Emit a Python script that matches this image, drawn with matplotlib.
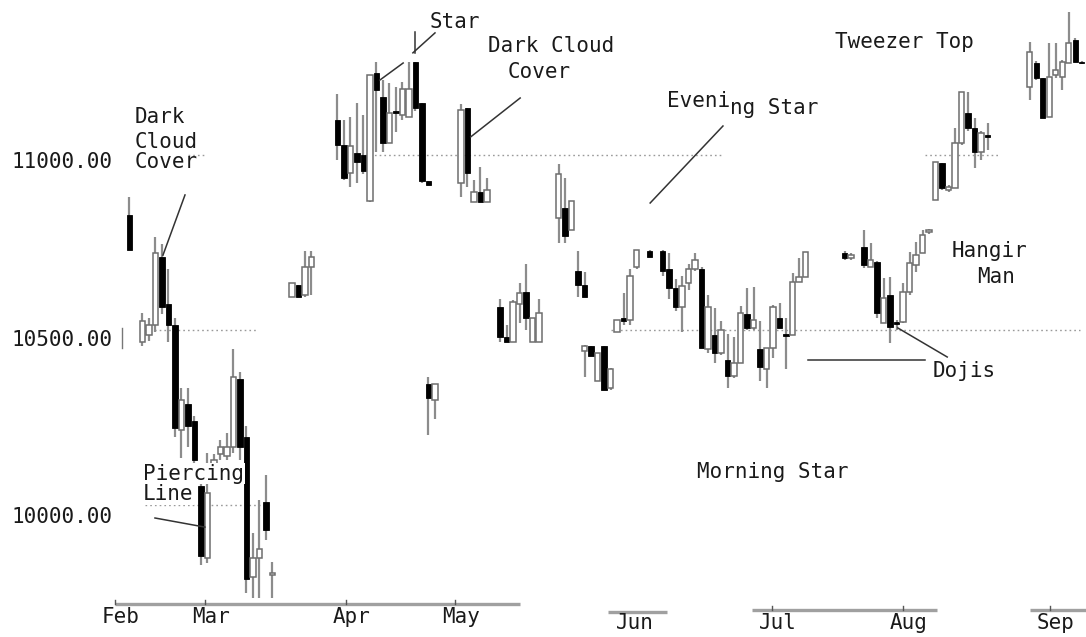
import matplotlib.pyplot as plt
import matplotlib.transforms as mtransforms

# ---------------------------------------------------------
# data: session position (trading days from start of Feb) and OHLC
# ---------------------------------------------------------
day = [1, 3, 4, 5, 6, 7, 8, 9, 10, 11, 12, 13, 14, 15, 16, 17, 18, 19, 20, 21, 22, 23,
       26, 27, 28, 29,
       33, 34, 35, 36, 37, 38, 39, 40, 41, 42, 43, 44, 45, 46, 47, 47, 48,
       52, 53, 54, 55, 56, 58, 59, 60, 61, 62, 63, 64,
       67, 68, 69, 70, 71, 71, 72, 73, 74, 75,
       76, 77, 78, 79, 81, 83, 84, 85, 86, 87, 88, 89, 90, 91, 92, 93, 94, 95, 96, 97,
       98, 99, 100, 101, 102, 103, 104, 105,
       111, 112, 114, 115, 116, 117, 118, 119, 120, 121, 122, 123, 124,
       125, 126, 127, 128, 129, 130, 131, 132, 133,
       139.5, 140.5, 141.5, 142.5, 143.5, 144.5, 145.5, 146.5, 147.5]

opens = [10830, 10465, 10485, 10515, 10710, 10575, 10515, 10215, 10290, 10240, 10055, 9850,
         10115, 10145, 10140, 10165, 10360, 10195, 9795, 9850, 10010, 9800,
         10595, 10630, 10600, 10680,
         11100, 11030, 10950, 11005, 11000, 10870, 11235, 11165, 11035, 11125, 11115, 11110,
         11265, 11150, 10925, 10345, 10300,
         10920, 11135, 10865, 10895, 10865, 10565, 10480, 10465, 10575, 10610, 10465, 10465,
         10820, 10850, 10785, 10670, 10630, 10440, 10455, 10355, 10455, 10335,
         10495, 10535, 10530, 10680, 10725, 10725, 10675, 10620, 10565, 10635, 10675, 10675,
         10445, 10485, 10435, 10415, 10370, 10405, 10545, 10505,
         10445, 10390, 10450, 10535, 10487, 10485, 10637, 10652,
         10720, 10705, 10737, 10680, 10694, 10520, 10600, 10520, 10523, 10609, 10686, 10720, 10780,
         10872, 10977, 10900, 10906, 11034, 11120, 11077, 11009, 11057,
         11194, 11263, 11220, 11109, 11229, 11223, 11263, 11329, 11266]

highs = [10880, 10550, 10535, 10765, 10745, 10675, 10535, 10335, 10335, 10255, 10120, 10150,
         10145, 10185, 10205, 10445, 10380, 10225, 9920, 10015, 10085, 9837,
         10635, 10630, 10725, 10725,
         11175, 11100, 11110, 11150, 11115, 11230, 11265, 11215, 11205, 11195, 11210, 11265,
         11265, 11150, 10925, 10365, 10345,
         11145, 11135, 10930, 10965, 10935, 10590, 10515, 10585, 10635, 10690, 10535, 10590,
         10975, 10935, 10870, 10725, 10665, 10457, 10455, 10435, 10455, 10392,
         10530, 10605, 10675, 10730, 10730, 10730, 10720, 10645, 10655, 10690, 10720, 10680,
         10600, 10563, 10525, 10490, 10480, 10570, 10620, 10623,
         10525, 10450, 10572, 10577, 10535, 10663, 10706, 10723,
         10725, 10720, 10786, 10749, 10697, 10649, 10652, 10530, 10634, 10723, 10752, 10786, 10790,
         10980, 10977, 10915, 11077, 11180, 11180, 11106, 11070, 11092,
         11323, 11270, 11220, 11320, 11320, 11272, 11409, 11335, 11268]

lows = [10730, 10455, 10470, 10495, 10545, 10465, 10195, 10135, 10165, 10115, 9830, 9835,
        10105, 10130, 10130, 10150, 10130, 9750, 9735, 9735, 9900, 9735,
        10595, 10595, 10595, 10600,
        10985, 10930, 10910, 10920, 10945, 10865, 11010, 11010, 11035, 11065, 11100, 11110,
        11125, 10920, 10915, 10200, 10245,
        10880, 10910, 10865, 10865, 10865, 10465, 10465, 10465, 10520, 10500, 10465, 10465,
        10750, 10750, 10785, 10595, 10595, 10365, 10425, 10355, 10330, 10330,
        10495, 10515, 10515, 10675, 10710, 10655, 10590, 10555, 10495, 10615, 10670, 10450,
        10435, 10405, 10430, 10335, 10363, 10405, 10500, 10500,
        10355, 10335, 10420, 10505, 10390, 10485, 10637, 10652,
        10700, 10700, 10677, 10680, 10534, 10520, 10463, 10500, 10520, 10600, 10666, 10720, 10775,
        10872, 10900, 10895, 10906, 11029, 11070, 10963, 10986, 11014,
        11157, 11214, 11106, 11109, 11220, 11186, 11263, 11266, 11260]

closes = [10730, 10525, 10515, 10720, 10565, 10515, 10220, 10300, 10225, 10130, 9855, 10035,
          10130, 10165, 10165, 10365, 10165, 9790, 9850, 9875, 9930, 9805,
          10635, 10595, 10680, 10710,
          11030, 10935, 11025, 10980, 10955, 11230, 11185, 11035, 11120, 11120, 11190, 11190,
          11135, 10925, 10915, 10305, 10345,
          11130, 10950, 10895, 10865, 10900, 10480, 10465, 10580, 10605, 10535, 10535, 10550,
          10945, 10770, 10870, 10630, 10595, 10455, 10425, 10435, 10330, 10390,
          10530, 10525, 10655, 10730, 10710, 10670, 10620, 10565, 10625, 10675, 10700, 10450,
          10565, 10435, 10500, 10370, 10405, 10550, 10505, 10530,
          10395, 10450, 10565, 10505, 10485, 10637, 10652, 10723,
          10705, 10715, 10686, 10700, 10549, 10592, 10509, 10518, 10609, 10692, 10714, 10772, 10786,
          10980, 10906, 10909, 11034, 11180, 11077, 11009, 11063, 11051,
          11294, 11220, 11106, 11223, 11243, 11266, 11320, 11266, 11262]

months = ["Feb", "Mar", "Apr", "May", "Jun", "Jul", "Aug", "Sep"]
month_pos = [-1.2, 12.6, 34.3, 51.1, 77.8, 99.8, 120.0, 142.6]

price_labels = [11000, 10500, 10000]

TXT = "#1a1a1a"
FONT = "DejaVu Sans Mono"

fig = plt.figure(figsize=(10.86, 6.37), dpi=100)
ax = fig.add_axes([0, 0, 1, 1])
ax.set_xlim(-18.92, 148.15)
ax.set_ylim(9623, 11443)
ax.axis("off")

# dotted reference levels
grid_runs = [(11000, 37.2, 92.3), (11000, 123.4, 134.9), (11000, 10.0, 12.6),
             (10500, 3.4, 20.8), (10500, 75.0, 147.2),
             (10000, 3.4, 21.8)]
for lvl, x0, x1 in grid_runs:
    ax.plot([x0, x1], [lvl, lvl], color="#9a9a9a", lw=1.0,
            linestyle=(0, (1.2, 2.2)), zorder=1)

# candles
for d, o, h, l, c in zip(day, opens, highs, lows, closes):
    ax.vlines(d, l, h, color="#8c8c8c", lw=1.6, zorder=2)
    lo, hi = min(o, c), max(o, c)
    if hi - lo < 4:
        lo, hi = lo - 2, hi + 2
    if c < o:
        ax.bar(d, hi - lo, bottom=lo, width=0.8, color="black",
               edgecolor="black", lw=0.6, zorder=3)
    else:
        ax.bar(d, hi - lo, bottom=lo, width=0.8, color="white",
               edgecolor="#6e6e6e", lw=1.1, zorder=3)

# broken x-axis baseline
xtr = mtransforms.blended_transform_factory(ax.transData, ax.transAxes)
for x0, x1, yy in [(-1.2, 61.1, 0.052), (74.6, 83.7, 0.040),
                   (96.8, 125.2, 0.043), (139.5, 148.2, 0.043)]:
    ax.plot([x0, x1], [yy, yy], color="#a0a0a0", lw=2.4, transform=xtr,
            solid_capstyle="butt", zorder=2)
for i, (m, p) in enumerate(zip(months, month_pos)):
    yy = 0.052 if i < 4 else 0.043
    if m != "Jun":
        ax.plot([p, p], [yy, yy + 0.006], color="#555555", lw=1.0, transform=xtr)
    ty = 0.031 if i < 4 else 0.022
    ax.text(p + 0.9, ty, m, transform=xtr, ha="center", va="center",
            fontsize=15, family=FONT, color=TXT)

# price labels
for v, yoff in zip(price_labels, [10963, 10454, 9949]):
    ax.text(-17.1, yoff, f"{v:.2f}", ha="left", va="baseline",
            fontsize=15, family=FONT, color=TXT)
ax.plot([-0.2, -0.2], [10449, 10505], color="#777777", lw=1.0)

# pattern annotations
def label(x, y, s, **kw):
    ax.text(x, y, s, ha="left", va="baseline", fontsize=15, family=FONT,
            color=TXT, zorder=6, **kw)

def pointer(x0, y0, x1, y1):
    ax.plot([x0, x1], [y0, y1], color="#333333", lw=1.1, zorder=5)

label(1.85, 11092, "Dark")
label(1.85, 11020, "Cloud")
label(1.85, 10963, "Cover")
pointer(9.54, 10886, 6.15, 10714)

wb = dict(facecolor="white", edgecolor="none", pad=0.5)
label(3.08, 10072, "Piercing", bbox=wb)
label(3.08, 10014, "Line", bbox=wb)
pointer(4.92, 9963, 12.6, 9937)

label(47.2, 11363, "Star")
pointer(44.9, 11352, 44.9, 11292)
pointer(48.0, 11349, 44.6, 11292)
pointer(39.5, 11214, 43.1, 11263)

label(56.15, 11294, "Dark Cloud")
label(59.2, 11220, "Cover")
pointer(61.1, 11163, 53.5, 11052)

label(83.7, 11137, "Eveni")
label(93.4, 11117, "ng Star")
pointer(92.3, 11083, 81.1, 10863)

label(109.5, 11306, "Tweezer Top")

label(127.5, 10709, "Hangir")
label(131.4, 10634, "Man")

label(124.5, 10366, "Dojis")
pointer(105.4, 10414, 123.4, 10414)
pointer(119.2, 10506, 126.8, 10423)

label(88.3, 10077, "Morning Star")

fig.savefig("out.png", dpi=100)
